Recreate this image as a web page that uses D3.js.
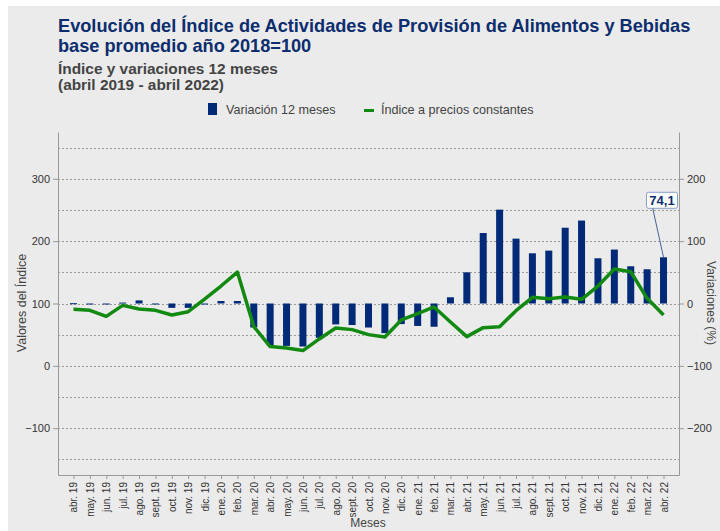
<!DOCTYPE html>
<html>
<head>
<meta charset="utf-8">
<script src="https://cdn.jsdelivr.net/npm/d3@7"></script>
<style>
  body { margin: 0; background: #fff; }
  svg { display: block; font-family: "Liberation Sans", Arial, sans-serif; }
</style>
</head>
<body>
<svg id="chart" width="720" height="531"></svg>
<script>
const months = [
  'abr. 19', 'may. 19', 'jun. 19', 'jul. 19', 'ago. 19', 'sept. 19', 'oct. 19', 'nov. 19', 'dic. 19',
  'ene. 20', 'feb. 20', 'mar. 20', 'abr. 20', 'may. 20', 'jun. 20', 'jul. 20', 'ago. 20', 'sept. 20',
  'oct. 20', 'nov. 20', 'dic. 20', 'ene. 21', 'feb. 21', 'mar. 21', 'abr. 21', 'may. 21', 'jun. 21',
  'jul. 21', 'ago. 21', 'sept. 21', 'oct. 21', 'nov. 21', 'dic. 21', 'ene. 22', 'feb. 22', 'mar. 22', 'abr. 22'
];

// Variación 12 meses (%), eje derecho
const variacion = [
  0.5, -0.5, -1.5, 1.5, 5, -0.5, -7, -7, -1.5,
  4, 4, -38.5, -67, -68, -69, -55, -33.5, -34.5,
  -38.5, -47.5, -33, -36, -37.3, 10, 50, 113, 150.5,
  104, 80.5, 84.8, 121.5, 133, 72.5, 86.5, 59.7, 54.9, 74.1
];

// Índice a precios constantes, eje izquierdo
const indice = [
  90.6, 89, 79.4, 97, 91.2, 89, 81.6, 86.9, 107.2,
  128, 150.4, 63, 30.9, 28.8, 24.5, 43.2, 60.8, 58.1,
  50.1, 46.4, 73.6, 83.7, 94.4, 70.4, 46.9, 61.3, 62.9,
  88.5, 109.9, 107.7, 110.4, 106.7, 128, 155.2, 150.9, 108.3, 81.6
];

const leftTicks = [-100, 0, 100, 200, 300];
const rightTicks = [-200, -100, 0, 100, 200];
const gridValues = [-150, -100, -50, 0, 50, 100, 150, 200, 250, 300, 350];

const navy = '#002a78';
const green = '#128a12';
const titleColor = '#0c2d6e';
const textColor = '#333';

const plot = { left: 58, right: 679, top: 132, bottom: 475 };

const svg = d3.select('#chart');

svg.append('rect')
  .attr('x', 8).attr('y', 6)
  .attr('width', 712).attr('height', 525)
  .attr('fill', '#ebebeb');

const x = d3.scalePoint()
  .domain(months)
  .range([plot.left, plot.right])
  .padding(0.945);

const yLeft = d3.scaleLinear().domain([-175, 375]).range([plot.bottom, plot.top]);
const yRight = d3.scaleLinear().domain([-275, 275]).range([plot.bottom, plot.top]);

// titles
svg.append('text')
  .attr('x', 58).attr('y', 32)
  .attr('font-size', 18.2).attr('font-weight', 'bold').attr('fill', titleColor)
  .text('Evolución del Índice de Actividades de Provisión de Alimentos y Bebidas');
svg.append('text')
  .attr('x', 58).attr('y', 52)
  .attr('font-size', 18.2).attr('font-weight', 'bold').attr('fill', titleColor)
  .text('base promedio año 2018=100');
svg.append('text')
  .attr('x', 58).attr('y', 74)
  .attr('font-size', 15.4).attr('font-weight', 'bold').attr('fill', '#444')
  .text('Índice y variaciones 12 meses');
svg.append('text')
  .attr('x', 58).attr('y', 90)
  .attr('font-size', 15.4).attr('font-weight', 'bold').attr('fill', '#444')
  .text('(abril 2019 - abril 2022)');

// legend
const legend = svg.append('g').attr('font-size', 12.6).attr('fill', '#444');
legend.append('rect')
  .attr('x', 208).attr('y', 103).attr('width', 9).attr('height', 12)
  .attr('fill', navy);
legend.append('text').attr('x', 226).attr('y', 114).text('Variación 12 meses');
legend.append('line')
  .attr('x1', 364).attr('x2', 374).attr('y1', 110.5).attr('y2', 110.5)
  .attr('stroke', green).attr('stroke-width', 3);
legend.append('text').attr('x', 381).attr('y', 114).text('Índice a precios constantes');

// grid
svg.append('g')
  .selectAll('line')
  .data(gridValues)
  .join('line')
  .attr('x1', plot.left).attr('x2', plot.right)
  .attr('y1', d => Math.round(yLeft(d)) + 0.5)
  .attr('y2', d => Math.round(yLeft(d)) + 0.5)
  .attr('stroke', '#9a9a9a')
  .attr('stroke-dasharray', '2,2');

// axes
function styleAxis(g) {
  g.attr('color', '#999').attr('font-size', 11).attr('font-family', null);
  g.selectAll('text').attr('fill', textColor);
}

svg.append('g')
  .attr('transform', `translate(${plot.left},0)`)
  .call(d3.axisLeft(yLeft).tickValues(leftTicks).tickSize(5).tickSizeOuter(0).tickFormat(d3.format('d')))
  .call(styleAxis);

svg.append('g')
  .attr('transform', `translate(${plot.right},0)`)
  .call(d3.axisRight(yRight).tickValues(rightTicks).tickSize(5).tickSizeOuter(0).tickFormat(d3.format('d')))
  .call(styleAxis);

svg.append('g')
  .attr('transform', `translate(0,${plot.bottom})`)
  .call(d3.axisBottom(x).tickSize(4).tickSizeOuter(0))
  .call(styleAxis)
  .call(g => g.selectAll('.tick text')
    .attr('font-size', 10)
    .attr('transform', 'rotate(-90)')
    .attr('x', -7).attr('y', 0).attr('dy', '0.35em')
    .style('text-anchor', 'end'));

// axis titles
svg.append('text')
  .attr('transform', 'translate(26,303) rotate(-90)')
  .attr('text-anchor', 'middle').attr('font-size', 12.5).attr('fill', '#444')
  .text('Valores del Índice');
svg.append('text')
  .attr('transform', 'translate(707,303) rotate(90)')
  .attr('text-anchor', 'middle').attr('font-size', 12).attr('fill', '#444')
  .text('Variaciones (%)');
svg.append('text')
  .attr('x', 368).attr('y', 527)
  .attr('text-anchor', 'middle').attr('font-size', 12).attr('fill', '#444')
  .text('Meses');

// bars
const barW = 7;
svg.append('g')
  .selectAll('rect')
  .data(months.map((m, i) => ({ m, v: variacion[i] })))
  .join('rect')
  .attr('x', d => x(d.m) - barW / 2)
  .attr('width', barW)
  .attr('y', d => Math.min(yRight(d.v), yRight(0)))
  .attr('height', d => Math.max(1, Math.abs(yRight(d.v) - yRight(0))))
  .attr('fill', navy);

// line
const line = d3.line()
  .x((d, i) => x(months[i]))
  .y(d => yLeft(d));

svg.append('path')
  .datum(indice)
  .attr('d', line)
  .attr('fill', 'none')
  .attr('stroke', green)
  .attr('stroke-width', 3.5)
  .attr('stroke-linejoin', 'round');

// annotation on last bar
const lastIdx = months.length - 1;
const ax = x(months[lastIdx]);
const ay = yRight(variacion[lastIdx]);
const label = svg.append('g');
label.append('line')
  .attr('x1', ax - 11).attr('y1', ay - 50)
  .attr('x2', ax).attr('y2', ay)
  .attr('stroke', '#1d3f84').attr('stroke-width', 0.8);
label.append('rect')
  .attr('x', ax - 17).attr('y', ay - 65)
  .attr('width', 31).attr('height', 16).attr('rx', 2)
  .attr('fill', '#fff').attr('stroke', '#6d86bb').attr('stroke-width', 0.8);
label.append('text')
  .attr('x', ax - 1.5).attr('y', ay - 52)
  .attr('text-anchor', 'middle').attr('font-size', 13).attr('font-weight', 'bold')
  .attr('fill', titleColor)
  .text(d3.format('.1f')(variacion[lastIdx]).replace('.', ','));
</script>
</body>
</html>
